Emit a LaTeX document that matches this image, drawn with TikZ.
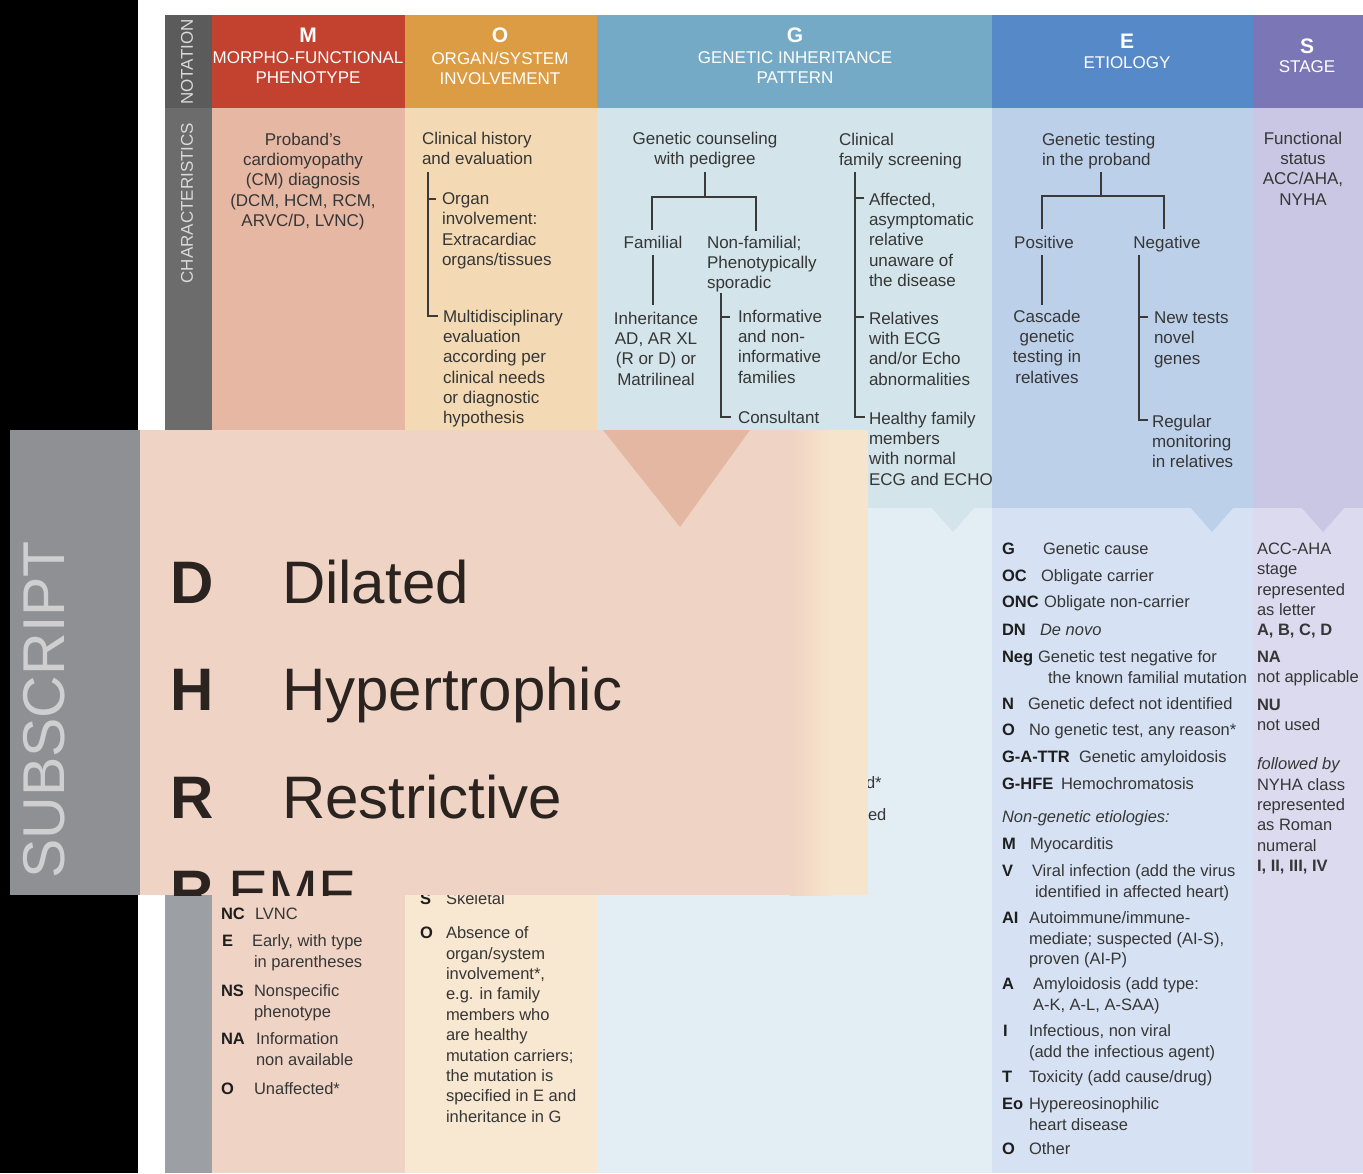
\documentclass[tikz,border=0pt]{standalone}
\usepackage{fontspec}
\setmainfont{Liberation Sans}
\definecolor{ink}{HTML}{363636}
\definecolor{inkb}{HTML}{1E1E1E}
\definecolor{rule}{HTML}{3A3A3A}
\definecolor{grayH}{HTML}{5B5B5B}
\definecolor{grayC}{HTML}{6C6C6C}
\definecolor{grayS}{HTML}{9C9FA3}
\definecolor{labelc}{HTML}{D9D9D9}
\definecolor{mH}{HTML}{C2412F}
\definecolor{mC}{HTML}{E6B8A3}
\definecolor{mS}{HTML}{EFD4C6}
\definecolor{oH}{HTML}{DC9C44}
\definecolor{oC}{HTML}{F4DAB4}
\definecolor{oS}{HTML}{F8E7D1}
\definecolor{gH}{HTML}{74AAC6}
\definecolor{gC}{HTML}{D3E4EA}
\definecolor{gS}{HTML}{E3EEF4}
\definecolor{eH}{HTML}{5589C8}
\definecolor{eC}{HTML}{BDD0EA}
\definecolor{eS}{HTML}{D6E2F3}
\definecolor{sH}{HTML}{7B77B6}
\definecolor{sC}{HTML}{C9C7E3}
\definecolor{sS}{HTML}{DCDAEE}
\definecolor{zoomBg}{HTML}{EFD3C4}
\definecolor{zoomTri}{HTML}{E3B7A1}
\definecolor{zoomGray}{HTML}{8F9093}
\definecolor{zoomLabel}{HTML}{CFCFD1}
\definecolor{zoomCream}{HTML}{F7E4CC}
\definecolor{zoomInk}{HTML}{2A2320}
\begin{document}
\begin{tikzpicture}[x=1pt,y=-1pt,
  every node/.style={inner sep=0pt,outer sep=0pt},
  body/.style={font=\fontsize{17}{20.3}\selectfont,text=ink},
  % texts placed by the baseline of their first line
  tl/.style={body,align=left,anchor=north west,yshift=14.2pt,
    execute at begin node={\rule{0pt}{14.2pt}}},
  tcn/.style={body,align=center,anchor=north,yshift=14.2pt,
    execute at begin node={\rule{0pt}{14.2pt}}},
  sub/.style={font=\fontsize{16.5}{20.4}\selectfont,text=ink,align=left,
    anchor=north west,yshift=14.2pt,execute at begin node={\rule{0pt}{14.2pt}}},
  ml/.style={yshift=-3pt},
  abbr/.style={font=\fontsize{16.5}{20.4}\selectfont\bfseries,text=inkb,anchor=base west},
  hdtext/.style={font=\fontsize{17}{20}\selectfont,text=white,align=center,
    anchor=north,yshift=14pt,execute at begin node={\rule{0pt}{14pt}}},
  hdletter/.style={font=\fontsize{21}{21}\selectfont\bfseries,text=white,anchor=base},
  sidelabel/.style={font=\fontsize{17}{17}\selectfont,text=labelc,rotate=90},
  br/.style={draw=rule,line width=1.3pt},
  zbig/.style={font=\fontsize{60}{60}\selectfont,text=zoomInk,anchor=base west},
  zbigb/.style={font=\fontsize{60}{60}\selectfont\bfseries,text=zoomInk,anchor=base west},
]
\useasboundingbox (0,0) rectangle (1363,1173);

% page background
\fill[black] (0,0) rectangle (138,1173);
\fill[white] (138,0) rectangle (1363,1173);

% side label column
\fill[grayH] (165,15) rectangle (212,108);
\fill[grayC] (165,108) rectangle (212,508);
\fill[grayS] (165,508) rectangle (212,1173);

% column bands: header / characteristics / subscript
\fill[mH] (212,15) rectangle (405,108);
\fill[mC] (212,108) rectangle (405,508);
\fill[mS] (212,508) rectangle (405,1173);
\fill[oH] (405,15) rectangle (597,108);
\fill[oC] (405,108) rectangle (597,508);
\fill[oS] (405,508) rectangle (597,1173);
\fill[gH] (597,15) rectangle (992,108);
\fill[gC] (597,108) rectangle (992,508);
\fill[gS] (597,508) rectangle (992,1173);
\fill[eH] (992,15) rectangle (1253,108);
\fill[eC] (992,108) rectangle (1253,508);
\fill[eS] (992,508) rectangle (1253,1173);
\fill[sH] (1253,15) rectangle (1363,108);
\fill[sC] (1253,108) rectangle (1363,508);
\fill[sS] (1253,508) rectangle (1363,1173);

% pointers below the characteristics band
\fill[mC] (343,507) -- (387,507) -- (365,532) -- cycle;
\fill[oC] (538,507) -- (582,507) -- (560,532) -- cycle;
\fill[gC] (931,507) -- (975,507) -- (953,532) -- cycle;
\fill[eC] (1190,507) -- (1234,507) -- (1212,532) -- cycle;
\fill[sC] (1301,507) -- (1345,507) -- (1323,532) -- cycle;

% side labels
\node[sidelabel] (lblN) at (187,62) {NOTATION};
\node[sidelabel] (lblC) at (187,203) {CHARACTERISTICS};

% headers
\node[hdletter] (hM) at (308,42) {M};
\node[hdtext,ml] (hMt) at (308,63) {MORPHO-FUNCTIONAL\\PHENOTYPE};
\node[hdletter] (hO) at (500,42) {O};
\node[hdtext,ml] (hOt) at (500,63) {ORGAN/SYSTEM\\INVOLVEMENT};
\node[hdletter] (hG) at (795,42) {G};
\node[hdtext,ml] (hGt) at (795,63) {GENETIC INHERITANCE\\PATTERN};
\node[hdletter] (hE) at (1127,48) {E};
\node[hdtext] (hEt) at (1127,68) {ETIOLOGY};
\node[hdletter] (hS) at (1307,53) {S};
\node[hdtext] (hSt) at (1307,72) {STAGE};

% ---------- characteristics ----------
% M
\node[tcn,ml] (mch) at (303,144) {Proband's\\cardiomyopathy\\(CM) diagnosis\\(DCM, HCM, RCM,\\ARVC/D, LVNC)};

% O
\node[tl,ml] (och) at (422,143) {Clinical history\\and evaluation};
\node[tl,ml] (oorg) at (442,204) {Organ\\involvement:\\Extracardiac\\organs/tissues};
\node[tl,ml] (omul) at (443,321) {Multidisciplinary\\evaluation\\according per\\clinical needs\\or diagnostic\\hypothesis};
\coordinate (oTop) at (428,172);
\coordinate (oTk) at (428,199);
\coordinate (oTkE) at (436,199);
\coordinate (oEnd) at (428,316);
\coordinate (oEndE) at (438,316);
\draw[br] (oTop) -- (oEnd) -- (oEndE);
\draw[br] (oTk) -- (oTkE);

% G
\node[tcn,ml] (gcp) at (705,143) {Genetic counseling\\with pedigree};
\node[tcn] (gfam) at (653,248) {Familial};
\node[tl,ml] (gnon) at (707,247) {Non-familial;\\Phenotypically\\sporadic};
\node[tcn,ml] (ginh) at (656,323) {Inheritance\\AD, AR XL\\(R or D) or\\Matrilineal};
\node[tl,ml] (ginf) at (738,321) {Informative\\and non-\\informative\\families};
\node[tl] (gcon) at (738,423) {Consultant};
\node[tl,ml] (gcfs) at (839,144) {Clinical\\family screening};
\node[tl,ml] (gaff) at (869,204) {Affected,\\asymptomatic\\relative\\unaware of\\the disease};
\node[tl,ml] (grel) at (869,323) {Relatives\\with ECG\\and/or Echo\\abnormalities};
\node[tl,ml] (ghea) at (869,423) {Healthy family\\members\\with normal\\ECG and ECHO};

\coordinate (gA) at (705,172);
\coordinate (gJ) at (705,197);
\coordinate (gL) at (652,197);
\coordinate (gR) at (756,197);
\coordinate (gLb) at (652,230);
\coordinate (gRb) at (756,231);
\draw[br] (gA) -- (gJ);
\draw[br] (gLb) -- (gL) -- (gR) -- (gRb);
\coordinate (gF1) at (653,255);
\coordinate (gF2) at (653,305);
\draw[br] (gF1) -- (gF2);
\coordinate (gS1) at (721,293);
\coordinate (gSt) at (721,317);
\coordinate (gStE) at (730,317);
\coordinate (gS2) at (721,417);
\coordinate (gS2E) at (731,417);
\draw[br] (gS1) -- (gS2) -- (gS2E);
\draw[br] (gSt) -- (gStE);
\coordinate (gC1) at (855,172);
\coordinate (gCt1) at (855,198);
\coordinate (gCt1E) at (864,198);
\coordinate (gCt2) at (855,317);
\coordinate (gCt2E) at (864,317);
\coordinate (gC2) at (855,417);
\coordinate (gC2E) at (865,417);
\draw[br] (gC1) -- (gC2) -- (gC2E);
\draw[br] (gCt1) -- (gCt1E);
\draw[br] (gCt2) -- (gCt2E);

% E
\node[tl,ml] (egt) at (1042,144) {Genetic testing\\in the proband};
\node[tcn] (epos) at (1044,248) {Positive};
\node[tcn] (eneg) at (1167,248) {Negative};
\node[tcn,ml] (ecas) at (1047,321) {Cascade\\genetic\\testing in\\relatives};
\node[tl,ml] (enew) at (1154,323) {New tests\\novel\\genes};
\node[tl,ml] (ereg) at (1152,426) {Regular\\monitoring\\in relatives};
\coordinate (eA) at (1101,172);
\coordinate (eJ) at (1101,196);
\coordinate (eL) at (1042,196);
\coordinate (eR) at (1164,196);
\coordinate (eLb) at (1042,229);
\coordinate (eRb) at (1164,229);
\draw[br] (eA) -- (eJ);
\draw[br] (eLb) -- (eL) -- (eR) -- (eRb);
\coordinate (eP1) at (1042,255);
\coordinate (eP2) at (1042,305);
\draw[br] (eP1) -- (eP2);
\coordinate (eN1) at (1139,255);
\coordinate (eNt) at (1139,317);
\coordinate (eNtE) at (1148,317);
\coordinate (eN2) at (1139,420);
\coordinate (eN2E) at (1148,420);
\draw[br] (eN1) -- (eN2) -- (eN2E);
\draw[br] (eNt) -- (eNtE);

% S
\node[tcn,ml] (sfun) at (1303,143) {Functional\\status\\ACC/AHA,\\NYHA};

% ---------- subscripts ----------
% M
\node[abbr] (mNCa) at (221,919) {NC};
\node[sub] (mNCd) at (255,919) {LVNC};
\node[abbr] (mEa) at (222,946) {E};
\node[sub,ml] (mEd) at (252,946) {Early, with type\\\hspace*{2pt}in parentheses};
\node[abbr] (mNSa) at (221,996) {NS};
\node[sub,ml] (mNSd) at (254,996) {Nonspecific\\phenotype};
\node[abbr] (mNAa) at (221,1044) {NA};
\node[sub,ml] (mNAd) at (256,1044) {Information\\non available};
\node[abbr] (mOa) at (221,1094) {O};
\node[sub] (mOd) at (254,1094) {Unaffected*};

% O
\node[abbr] (oSa) at (420,904) {S};
\node[sub] (oSd) at (446,904) {Skeletal};
\node[abbr] (oOa) at (420,938) {O};
\node[sub,ml] (oOd) at (446,938) {Absence of\\organ/system\\involvement*,\\e.g. in family\\members who\\are healthy\\mutation carriers;\\the mutation is\\specified in E and\\inheritance in G};

% G (ends of lines that continue under the enlarged panel)
\node[sub] (gX1) at (866,788) {d*};
\node[sub] (gX2) at (868,820) {ed};

% E
\node[abbr] (e1a) at (1002,554) {G};
\node[sub] (e1d) at (1043,554) {Genetic cause};
\node[abbr] (e2a) at (1002,581) {OC};
\node[sub] (e2d) at (1041,581) {Obligate carrier};
\node[abbr] (e3a) at (1002,607) {ONC};
\node[sub] (e3d) at (1044,607) {Obligate non-carrier};
\node[abbr] (e4a) at (1002,635) {DN};
\node[sub] (e4d) at (1040,635) {\textit{De novo}};
\node[abbr] (e5a) at (1002,662) {Neg};
\node[sub,ml] (e5d) at (1038,662) {Genetic test negative for\\\hspace*{10pt}the known familial mutation};
\node[abbr] (e6a) at (1002,709) {N};
\node[sub] (e6d) at (1028,709) {Genetic defect not identified};
\node[abbr] (e7a) at (1002,735) {O};
\node[sub] (e7d) at (1029,735) {No genetic test, any reason*};
\node[abbr] (e8a) at (1002,762) {G-A-TTR};
\node[sub] (e8d) at (1079,762) {Genetic amyloidosis};
\node[abbr] (e9a) at (1002,789) {G-HFE};
\node[sub] (e9d) at (1061,789) {Hemochromatosis};
\node[sub] (e10) at (1002,822) {\textit{Non-genetic etiologies:}};
\node[abbr] (e11a) at (1002,849) {M};
\node[sub] (e11d) at (1030,849) {Myocarditis};
\node[abbr] (e12a) at (1002,876) {V};
\node[sub,ml] (e12d) at (1032,876) {Viral infection (add the virus\\\hspace*{3pt}identified in affected heart)};
\node[abbr] (e13a) at (1002,923) {AI};
\node[sub,ml] (e13d) at (1029,923) {Autoimmune/immune-\\mediate; suspected (AI-S),\\proven (AI-P)};
\node[abbr] (e14a) at (1002,989) {A};
\node[sub,ml] (e14d) at (1033,989) {Amyloidosis (add type:\\A-K, A-L, A-SAA)};
\node[abbr] (e15a) at (1003,1036) {I};
\node[sub,ml] (e15d) at (1029,1036) {Infectious, non viral\\(add the infectious agent)};
\node[abbr] (e16a) at (1002,1082) {T};
\node[sub] (e16d) at (1029,1082) {Toxicity (add cause/drug)};
\node[abbr] (e17a) at (1002,1109) {Eo};
\node[sub,ml] (e17d) at (1029,1109) {Hypereosinophilic\\heart disease};
\node[abbr] (e18a) at (1002,1154) {O};
\node[sub] (e18d) at (1029,1154) {Other};

% S
\node[sub,ml] (s1) at (1257,554) {ACC-AHA\\stage\\represented\\as letter\\\textbf{A, B, C, D}};
\node[sub,ml] (s2) at (1257,662) {\textbf{NA}\\not applicable};
\node[sub,ml] (s3) at (1257,710) {\textbf{NU}\\not used};
\node[sub,ml] (s4) at (1257,769) {\textit{followed by}\\NYHA class\\represented\\as Roman\\numeral\\\textbf{I, II, III, IV}};

% ---------- enlarged subscript panel ----------
\begin{scope}
  \clip (10,430) rectangle (868,895);
  \fill[zoomBg] (10,430) rectangle (868,895);
  \shade[left color=zoomBg,right color=zoomCream] (790,430) rectangle (830,895);
  \fill[zoomCream] (830,430) rectangle (868,895);
  \fill[zoomTri] (603,430) -- (750,430) -- (680,527) -- cycle;
  \fill[zoomGray] (10,430) rectangle (140,895);
  \node[font=\fontsize{59}{59}\selectfont,text=zoomLabel,rotate=90] (zlbl) at (44,710) {SUBSCRIPT};
  \node[zbigb] (zDa) at (170,603) {D};
  \node[zbig] (zDd) at (282,603) {Dilated};
  \node[zbigb] (zHa) at (170,710) {H};
  \node[zbig] (zHd) at (282,710) {Hypertrophic};
  \node[zbigb] (zRa) at (170,818) {R};
  \node[zbig] (zRd) at (282,818) {Restrictive};
  % last row runs past the panel's lower edge and is cut by the clip
  \node[zbigb] (zEa) at (170,912) {R};
  \node[zbig] (zEd) at (228,912) {EMF};
\end{scope}
\end{tikzpicture}
\end{document}
